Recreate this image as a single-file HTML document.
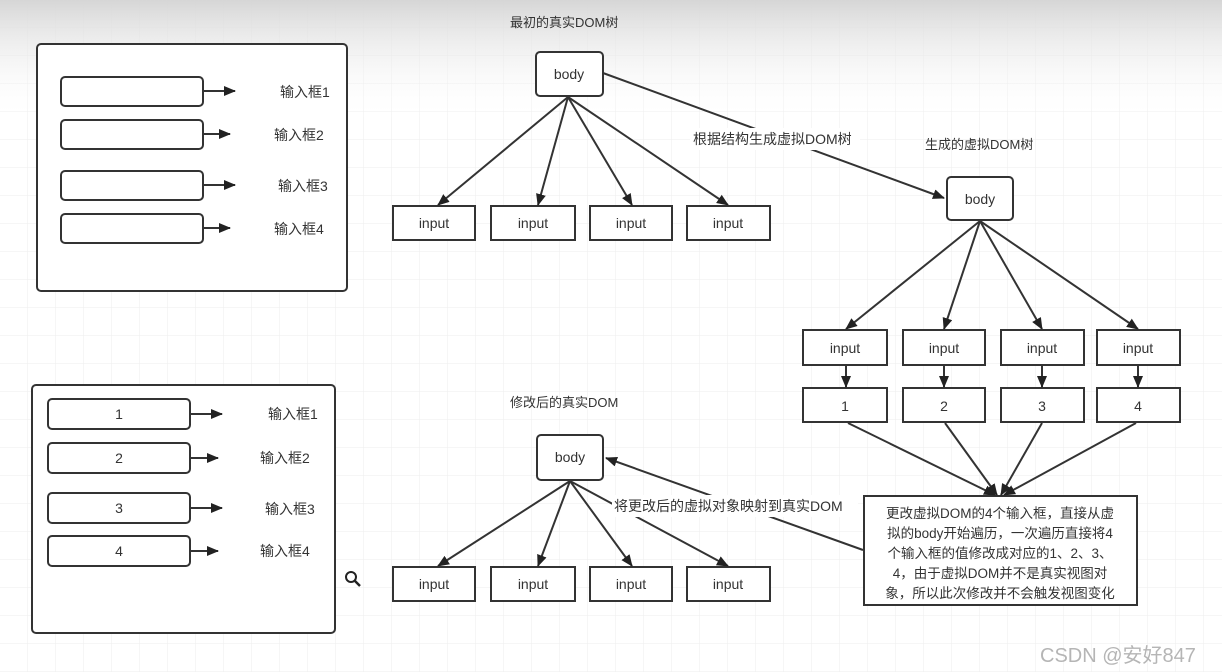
<!DOCTYPE html>
<html><head><meta charset="utf-8"><style>
html,body{margin:0;padding:0;width:1222px;height:672px;overflow:hidden;background:#fff}
svg{display:block}
text{font-family:"Liberation Sans","Noto Sans CJK SC",sans-serif;fill:#333}
</style></head><body>
<svg width="1222" height="672" xmlns="http://www.w3.org/2000/svg">
<defs>
<linearGradient id="g" x1="0" y1="0" x2="0" y2="1"><stop offset="0" stop-color="#d6d6d6"/><stop offset="1" stop-color="#fff" stop-opacity="0"/></linearGradient>
<pattern id="grid" width="28" height="28" patternUnits="userSpaceOnUse"><path d="M28 0V28H0" fill="none" stroke="#eeeeee" stroke-width="1"/></pattern>
<marker id="a" markerWidth="12" markerHeight="10" refX="11" refY="5" orient="auto" markerUnits="userSpaceOnUse"><path d="M0,0L12,5L0,10z" fill="#222"/></marker>
</defs>
<rect width="1222" height="672" fill="url(#grid)"/>
<rect width="1222" height="120" fill="url(#g)"/>
<g stroke="#333" stroke-width="2" fill="#fff">
<rect x="37" y="44" width="310" height="247" rx="4"/>
<rect x="61" y="77" width="142" height="29" rx="4"/>
<rect x="61" y="120" width="142" height="29" rx="4"/>
<rect x="61" y="171" width="142" height="29" rx="4"/>
<rect x="61" y="214" width="142" height="29" rx="4"/>
<rect x="32" y="385" width="303" height="248" rx="4"/>
<rect x="48" y="399" width="142" height="30" rx="4"/>
<rect x="48" y="443" width="142" height="30" rx="4"/>
<rect x="48" y="493" width="142" height="30" rx="4"/>
<rect x="48" y="536" width="142" height="30" rx="4"/>
<rect x="536" y="52" width="67" height="44" rx="4"/>
<rect x="947" y="177" width="66" height="43" rx="4"/>
<rect x="537" y="435" width="66" height="45" rx="4"/>
<rect x="393" y="206" width="82" height="34"/><rect x="491" y="206" width="84" height="34"/><rect x="590" y="206" width="82" height="34"/><rect x="687" y="206" width="83" height="34"/>
<rect x="393" y="567" width="82" height="34"/><rect x="491" y="567" width="84" height="34"/><rect x="590" y="567" width="82" height="34"/><rect x="687" y="567" width="83" height="34"/>
<rect x="803" y="330" width="84" height="35"/><rect x="903" y="330" width="82" height="35"/><rect x="1001" y="330" width="83" height="35"/><rect x="1097" y="330" width="83" height="35"/>
<rect x="803" y="388" width="84" height="34"/><rect x="903" y="388" width="82" height="34"/><rect x="1001" y="388" width="83" height="34"/><rect x="1097" y="388" width="83" height="34"/>
<rect x="864" y="496" width="273" height="109"/>
</g>
<g stroke="#333" stroke-width="2" fill="none" marker-end="url(#a)">
<line x1="203" y1="91" x2="235" y2="91"/><line x1="203" y1="134" x2="230" y2="134"/><line x1="203" y1="185" x2="235" y2="185"/><line x1="203" y1="228" x2="230" y2="228"/>
<line x1="190" y1="414" x2="222" y2="414"/><line x1="190" y1="458" x2="218" y2="458"/><line x1="190" y1="508" x2="222" y2="508"/><line x1="190" y1="551" x2="218" y2="551"/>
<line x1="568" y1="97" x2="438" y2="205"/><line x1="568" y1="97" x2="538" y2="205"/><line x1="568" y1="97" x2="632" y2="205"/><line x1="568" y1="97" x2="728" y2="205"/>
<line x1="570" y1="481" x2="438" y2="566"/><line x1="570" y1="481" x2="538" y2="566"/><line x1="570" y1="481" x2="632" y2="566"/><line x1="570" y1="481" x2="728" y2="566"/>
<line x1="980" y1="221" x2="846" y2="329"/><line x1="980" y1="221" x2="944" y2="329"/><line x1="980" y1="221" x2="1042" y2="329"/><line x1="980" y1="221" x2="1138" y2="329"/>
<line x1="846" y1="365" x2="846" y2="387"/><line x1="944" y1="365" x2="944" y2="387"/><line x1="1042" y1="365" x2="1042" y2="387"/><line x1="1138" y1="365" x2="1138" y2="387"/>
<line x1="848" y1="423" x2="995" y2="495"/><line x1="945" y1="423" x2="997" y2="495"/><line x1="1042" y1="423" x2="1001" y2="495"/><line x1="1136" y1="423" x2="1004" y2="495"/>
<line x1="603" y1="73" x2="944" y2="198"/>
<line x1="863" y1="550" x2="606" y2="458"/>
</g>
<rect x="690" y="128" width="170" height="22" fill="#fff"/>
<rect x="612" y="495" width="246" height="22" fill="#fff"/>
<g font-size="14">
<text x="280" y="97">输入框1</text><text x="274" y="140">输入框2</text><text x="278" y="191">输入框3</text><text x="274" y="234">输入框4</text>
<text x="268" y="419">输入框1</text><text x="260" y="463">输入框2</text><text x="265" y="514">输入框3</text><text x="260" y="556">输入框4</text>
<text x="119" y="419" text-anchor="middle">1</text><text x="119" y="463" text-anchor="middle">2</text><text x="119" y="513" text-anchor="middle">3</text><text x="119" y="556" text-anchor="middle">4</text>
<text x="510" y="27" font-size="13">最初的真实DOM树</text>
<text x="693" y="144">根据结构生成虚拟DOM树</text>
<text x="925" y="149" font-size="13">生成的虚拟DOM树</text>
<text x="510" y="407" font-size="13">修改后的真实DOM</text>
<text x="614" y="511">将更改后的虚拟对象映射到真实DOM</text>
<text x="569" y="79" text-anchor="middle">body</text><text x="980" y="204" text-anchor="middle">body</text><text x="570" y="462" text-anchor="middle">body</text>
<text x="434" y="228" text-anchor="middle">input</text><text x="533" y="228" text-anchor="middle">input</text><text x="631" y="228" text-anchor="middle">input</text><text x="728" y="228" text-anchor="middle">input</text>
<text x="434" y="589" text-anchor="middle">input</text><text x="533" y="589" text-anchor="middle">input</text><text x="631" y="589" text-anchor="middle">input</text><text x="728" y="589" text-anchor="middle">input</text>
<text x="845" y="353" text-anchor="middle">input</text><text x="944" y="353" text-anchor="middle">input</text><text x="1042" y="353" text-anchor="middle">input</text><text x="1138" y="353" text-anchor="middle">input</text>
<text x="845" y="411" text-anchor="middle">1</text><text x="944" y="411" text-anchor="middle">2</text><text x="1042" y="411" text-anchor="middle">3</text><text x="1138" y="411" text-anchor="middle">4</text>
<g text-anchor="middle" font-size="13.5" fill="#222"><text x="1000" y="518">更改虚拟DOM的4个输入框，直接从虚</text><text x="1000" y="538">拟的body开始遍历，一次遍历直接将4</text><text x="1000" y="558">个输入框的值修改成对应的1、2、3、</text><text x="1000" y="578">4，由于虚拟DOM并不是真实视图对</text><text x="1000" y="598">象，所以此次修改并不会触发视图变化</text></g>
</g>
<circle cx="351" cy="577" r="5" fill="none" stroke="#222" stroke-width="2"/><line x1="355" y1="581" x2="360" y2="586" stroke="#222" stroke-width="2.5"/>
<text x="1040" y="662" font-size="20" style="fill:#b5b5b5">CSDN @安好847</text>
</svg>
</body></html>
